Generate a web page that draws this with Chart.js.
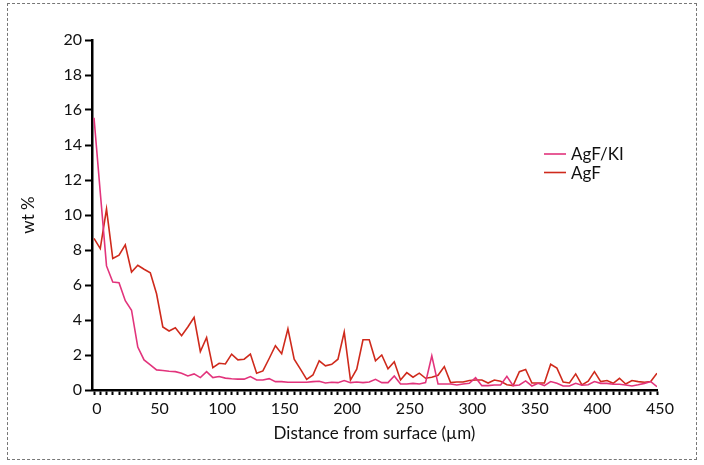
<!DOCTYPE html>
<html><head><meta charset="utf-8">
<script src="https://cdn.jsdelivr.net/npm/chart.js@4.4.0/dist/chart.umd.min.js"></script>
<style>
html,body{margin:0;padding:0;background:#fff;}
#wrap{position:relative;width:704px;height:465px;}
#frame{position:absolute;left:7px;top:3px;width:690px;height:457px;border:1px dashed #777;box-sizing:border-box;}
canvas{position:absolute;left:0;top:0;}
</style></head><body>
<div id="wrap"><div id="frame"></div><canvas id="c" width="704" height="465"></canvas></div>
<script>
const distances = [0,5,10,15,20,25,30,35,40,45,50,55,60,65,70,75,80,85,90,95,
  100,105,110,115,120,125,130,135,140,145,150,155,160,165,170,175,180,185,190,195,
  200,205,210,215,220,225,230,235,240,245,250,255,260,265,270,275,280,285,290,295,
  300,305,310,315,320,325,330,335,340,345,350,355,360,365,370,375,380,385,390,395,
  400,405,410,415,420,425,430,435,440,445,450];

const agfKI = [15.56,11.3,7.09,6.17,6.13,5.1,4.56,2.45,1.72,1.44,1.15,1.11,1.07,1.05,0.96,0.8,0.92,0.71,1.05,0.71,
  0.77,0.68,0.64,0.62,0.62,0.77,0.57,0.57,0.65,0.48,0.48,0.44,0.44,0.44,0.44,0.48,0.5,0.4,0.44,0.42,
  0.54,0.42,0.46,0.42,0.46,0.61,0.42,0.42,0.8,0.34,0.34,0.38,0.34,0.42,1.95,0.34,0.34,0.34,0.29,0.34,
  0.38,0.7,0.25,0.25,0.29,0.29,0.78,0.25,0.29,0.52,0.23,0.38,0.25,0.48,0.38,0.23,0.23,0.38,0.27,0.3,
  0.48,0.38,0.38,0.33,0.33,0.29,0.23,0.3,0.38,0.48,0.19];

const agf = [8.66,8.08,10.34,7.51,7.7,8.3,6.74,7.13,6.9,6.7,5.5,3.6,3.37,3.56,3.1,3.6,4.15,2.2,3.0,1.28,
  1.53,1.49,2.05,1.72,1.76,2.05,0.96,1.09,1.8,2.53,2.07,3.49,1.76,1.19,0.61,0.86,1.67,1.38,1.47,1.76,
  3.31,0.57,1.19,2.87,2.87,1.67,2.0,1.21,1.61,0.57,0.99,0.73,0.96,0.67,0.73,0.84,1.34,0.42,0.46,0.46,
  0.54,0.57,0.57,0.4,0.57,0.5,0.3,0.25,1.05,1.17,0.4,0.4,0.4,1.47,1.25,0.45,0.4,0.92,0.29,0.5,
  1.05,0.48,0.54,0.38,0.67,0.34,0.54,0.48,0.44,0.48,0.96];

const seriesNames = ['AgF/KI', 'AgF'];
const xLabelStep = 50;
const yTickValues = [0,2,4,6,8,10,12,14,16,18,20];
const xTitle = 'Distance from surface (\u00b5m)';
const yTitle = 'wt %';

const FONT = 'Lato, "Open Sans", sans-serif';
const toPts = arr => arr.map((v,i)=>({x:distances[i], y:v}));

const legendPlugin = {
  id:'customLegend',
  afterDraw(chart){
    const ctx = chart.ctx;
    chart.data.datasets.forEach((ds,i)=>{
      const y = 154 + i*18.5;
      ctx.save();
      ctx.strokeStyle = ds.borderColor;
      ctx.lineWidth = 1.6;
      ctx.beginPath(); ctx.moveTo(544,y); ctx.lineTo(566,y); ctx.stroke();
      ctx.fillStyle = '#111';
      ctx.font = '17px ' + FONT;
      ctx.textBaseline = 'middle';
      ctx.fillText(ds.label, 571, y+1);
      ctx.restore();
    });
  }
};

new Chart(document.getElementById('c'), {
  type:'line',
  data:{
    datasets:[
      {label:seriesNames[0], data:toPts(agfKI), borderColor:'#e2347c', borderWidth:1.6, pointRadius:0, tension:0, fill:false},
      {label:seriesNames[1], data:toPts(agf), borderColor:'#cf2a1c', borderWidth:1.6, pointRadius:0, tension:0, fill:false}
    ]
  },
  options:{
    responsive:false,
    animation:false,
    layout:{padding:{left:0, top:40, right:47, bottom:0}},
    plugins:{legend:{display:false}, tooltip:{enabled:false}},
    scales:{
      x:{
        type:'linear', min:-1.6, max:450,
        afterBuildTicks(scale){ scale.ticks = distances.map(v=>({value:v})); },
        afterFit(scale){ scale.height = 75; },
        ticks:{
          autoSkip:false, maxRotation:0, minRotation:0, labelOffset:3, padding:4,
          color:'#111', font:{family:FONT, size:16},
          callback:(v)=> (v % xLabelStep === 0 ? String(v) : '')
        },
        grid:{display:true, drawOnChartArea:false, drawTicks:true, tickLength:5, tickWidth:2, color:'#000'},
        border:{display:true, color:'#000', width:2.5},
        title:{display:true, text:xTitle, color:'#111', font:{family:FONT, size:17}, padding:{top:0, bottom:21}}
      },
      y:{
        min:0, max:20,
        afterBuildTicks(scale){ scale.ticks = yTickValues.map(v=>({value:v})); },
        afterFit(scale){ scale.width = 92; },
        ticks:{color:'#111', font:{family:FONT, size:16}, padding:3},
        grid:{display:true, drawOnChartArea:false, drawTicks:true, tickLength:7, tickWidth:2, color:'#000'},
        border:{display:true, color:'#000', width:2.5},
        title:{display:true, text:yTitle, color:'#111', font:{family:FONT, size:17}, padding:{top:18, bottom:0}}
      }
    }
  },
  plugins:[legendPlugin]
});
</script>
</body></html>
